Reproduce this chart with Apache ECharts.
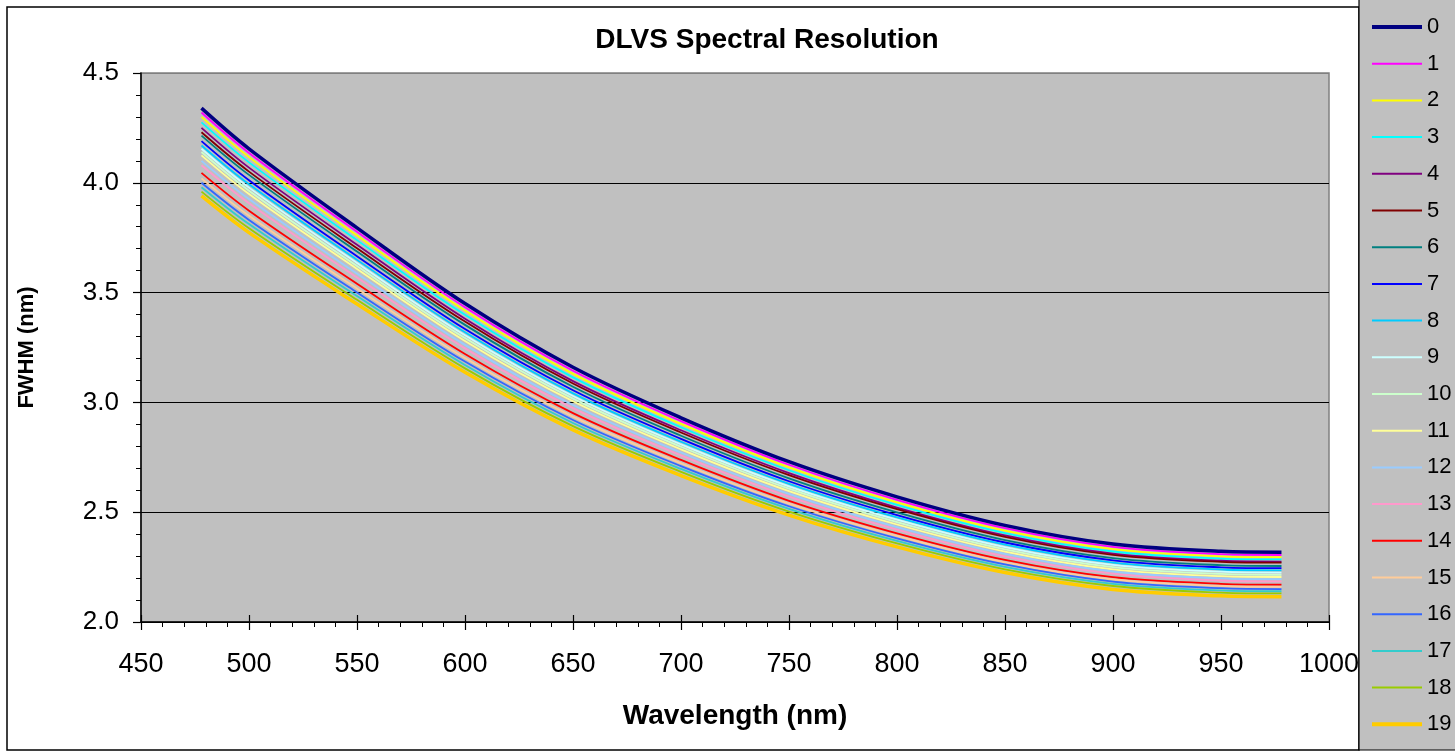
<!DOCTYPE html>
<html>
<head>
<meta charset="utf-8">
<script src="https://cdn.jsdelivr.net/npm/echarts@6/dist/echarts.min.js"></script>
<style>
html,body{margin:0;padding:0;background:#fff;}
#chart{width:1455px;height:754px;}
</style>
</head>
<body>
<div id="chart"></div>
<script>
const wavelengths = [478, 500, 550, 600, 650, 700, 750, 800, 850, 900, 950, 978];
const seriesNames = ['0','1','2','3','4','5','6','7','8','9','10','11','12','13','14','15','16','17','18','19'];
const colors = ['#000080','#FF00FF','#FFFF00','#00FFFF','#800080','#800000','#008080','#0000FF','#00CCFF','#CCFFFF',
                '#CCFFCC','#FFFF99','#99CCFF','#FF99CC','#FF0000','#FFCC99','#3366FF','#33CCCC','#99CC00','#FFCC00'];
const xTicks = [450, 500, 550, 600, 650, 700, 750, 800, 850, 900, 950, 1000];
const yTicks = ['2.0','2.5','3.0','3.5','4.0','4.5'];

const fwhm0  = [4.34, 4.155, 3.795, 3.45, 3.16, 2.93, 2.73, 2.57, 2.44, 2.355, 2.322, 2.318];
const fwhm1  = [4.32, 4.136, 3.777, 3.433, 3.144, 2.915, 2.716, 2.556, 2.427, 2.342, 2.309, 2.305];
const fwhm2  = [4.30, 4.117, 3.76, 3.418, 3.13, 2.902, 2.704, 2.545, 2.416, 2.332, 2.299, 2.295];
const fwhm3  = [4.275, 4.093, 3.739, 3.399, 3.114, 2.887, 2.691, 2.533, 2.405, 2.321, 2.289, 2.285];
const fwhm4  = [4.25, 4.069, 3.718, 3.381, 3.097, 2.873, 2.678, 2.521, 2.394, 2.311, 2.279, 2.275];
const fwhm5  = [4.23, 4.051, 3.702, 3.368, 3.086, 2.863, 2.669, 2.514, 2.388, 2.306, 2.274, 2.27];
const fwhm6  = [4.215, 4.036, 3.687, 3.353, 3.071, 2.848, 2.654, 2.499, 2.373, 2.291, 2.259, 2.255];
const fwhm7  = [4.19, 4.012, 3.666, 3.334, 3.055, 2.834, 2.641, 2.487, 2.362, 2.281, 2.249, 2.245];
const fwhm8  = [4.17, 3.993, 3.649, 3.319, 3.041, 2.821, 2.629, 2.476, 2.352, 2.27, 2.239, 2.235];
const fwhm9  = [4.155, 3.978, 3.635, 3.306, 3.029, 2.809, 2.618, 2.466, 2.341, 2.26, 2.229, 2.225];
const fwhm10 = [4.14, 3.964, 3.621, 3.293, 3.017, 2.798, 2.607, 2.455, 2.331, 2.25, 2.219, 2.215];
const fwhm11 = [4.125, 3.949, 3.608, 3.28, 3.005, 2.786, 2.596, 2.444, 2.321, 2.24, 2.209, 2.205];
const fwhm12 = [4.10, 3.926, 3.587, 3.262, 2.988, 2.772, 2.583, 2.432, 2.31, 2.23, 2.199, 2.195];
const fwhm13 = [4.08, 3.907, 3.569, 3.246, 2.974, 2.759, 2.571, 2.421, 2.299, 2.22, 2.189, 2.185];
const fwhm14 = [4.045, 3.873, 3.54, 3.22, 2.951, 2.738, 2.552, 2.404, 2.283, 2.204, 2.174, 2.17];
const fwhm15 = [4.02, 3.85, 3.519, 3.202, 2.935, 2.723, 2.539, 2.392, 2.272, 2.194, 2.164, 2.16];
const fwhm16 = [4.00, 3.831, 3.501, 3.186, 2.92, 2.71, 2.527, 2.381, 2.262, 2.184, 2.154, 2.15];
const fwhm17 = [3.98, 3.812, 3.484, 3.17, 2.906, 2.697, 2.515, 2.369, 2.251, 2.174, 2.144, 2.14];
const fwhm18 = [3.96, 3.793, 3.467, 3.155, 2.892, 2.684, 2.503, 2.358, 2.24, 2.164, 2.134, 2.13];
const fwhm19 = [3.94, 3.773, 3.448, 3.137, 2.875, 2.667, 2.487, 2.342, 2.225, 2.148, 2.119, 2.115];

const allValues = [fwhm0,fwhm1,fwhm2,fwhm3,fwhm4,fwhm5,fwhm6,fwhm7,fwhm8,fwhm9,
                   fwhm10,fwhm11,fwhm12,fwhm13,fwhm14,fwhm15,fwhm16,fwhm17,fwhm18,fwhm19];

const FONT = 'Liberation Sans, Arial, sans-serif';
const chart = echarts.init(document.getElementById('chart'), null, {renderer:'canvas'});

const isThick = i => (i === 0 || i === 19);

const series = allValues.map((vals, i) => ({
  name: seriesNames[i],
  type: 'line',
  xAxisIndex: 0,
  yAxisIndex: 0,
  data: wavelengths.map((w, j) => [w, vals[j]]),
  smooth: 0.35,
  symbol: 'none',
  showSymbol: false,
  color: colors[i],
  z: isThick(i) ? 4 : 3,
  lineStyle: {color: colors[i], width: isThick(i) ? 3.5 : 1.8},
  emphasis: {disabled: true},
  animation: false
}));

const legendData = seriesNames.map((n, i) => ({
  name: n,
  icon: isThick(i) ? 'path://M0,0H50V4H0Z' : 'path://M0,0H50V2H0Z',
  itemStyle: {color: colors[i], borderWidth: 0}
}));

chart.setOption({
  animation: false,
  backgroundColor: '#ffffff',
  textStyle: {fontFamily: FONT},
  graphic: [
    {type:'rect', z:-10, shape:{x:7, y:7, width:1352, height:743}, style:{fill:'#ffffff', stroke:'#000', lineWidth:1.5}},
    {type:'rect', z:-9, shape:{x:1359, y:-2, width:100, height:752}, style:{fill:'#C0C0C0', stroke:'#000', lineWidth:1.2}}
  ],
  title: {
    text: 'DLVS Spectral Resolution',
    left: 762, top: 21, textAlign: 'center',
    textStyle: {fontFamily: FONT, fontSize: 28, fontWeight: 'bold', color: '#000'}
  },
  legend: {
    orient: 'vertical',
    left: 1372, top: 16, padding: 0,
    itemWidth: 50, itemHeight: 14, itemGap: 14.7,
    symbolKeepAspect: true,
    textStyle: {fontFamily: FONT, fontSize: 22, color: '#000'},
    data: legendData,
    selectedMode: false
  },
  grid: {
    left: 141, right: 126, top: 73, bottom: 132,
    show: true, backgroundColor: '#C0C0C0', borderColor: '#808080', borderWidth: 1.5,
    containLabel: false
  },
  xAxis: [{
    type: 'value', min: 450, max: 1000, interval: 50,
    name: 'Wavelength (nm)', nameLocation: 'middle', nameGap: 80,
    nameTextStyle: {fontFamily: FONT, fontSize: 28, fontWeight: 'bold', color: '#000'},
    axisLine: {show: true, lineStyle: {color: '#000', width: 1.5}},
    axisTick: {show: true, length: 8, lineStyle: {color: '#000', width: 1.2}},
    minorTick: {show: true, splitNumber: 5, length: 5, lineStyle: {color: '#000', width: 1}},
    axisLabel: {margin: 29, fontFamily: FONT, fontSize: 27, color: '#000',
      formatter: v => xTicks.indexOf(v) >= 0 ? String(v) : ''},
    splitLine: {show: false}
  }, {
    type: 'value', min: 450, max: 1000, interval: 50, position: 'bottom',
    axisLine: {show: false},
    axisTick: {show: true, inside: true, length: 7, lineStyle: {color: '#000', width: 1.2}},
    axisLabel: {show: false},
    splitLine: {show: false}
  }],
  yAxis: {
    type: 'value', min: 2.0, max: 4.5, interval: 0.5,
    name: 'FWHM (nm)', nameLocation: 'middle', nameGap: 103,
    nameTextStyle: {fontFamily: FONT, fontSize: 22, fontWeight: 'bold', color: '#000'},
    axisLine: {show: true, lineStyle: {color: '#000', width: 1.5}},
    axisTick: {show: true, length: 8, lineStyle: {color: '#000', width: 1.2}},
    minorTick: {show: true, splitNumber: 5, length: 5, lineStyle: {color: '#000', width: 1}},
    axisLabel: {margin: 22, fontFamily: FONT, fontSize: 26, color: '#000',
      formatter: v => { const s = v.toFixed(1); return yTicks.indexOf(s) >= 0 ? s : ''; }},
    splitLine: {show: true, lineStyle: {color: ['#000','#000','#000','#000','#000','#808080'], width: 1}}
  },
  series: series
});
</script>
</body>
</html>
